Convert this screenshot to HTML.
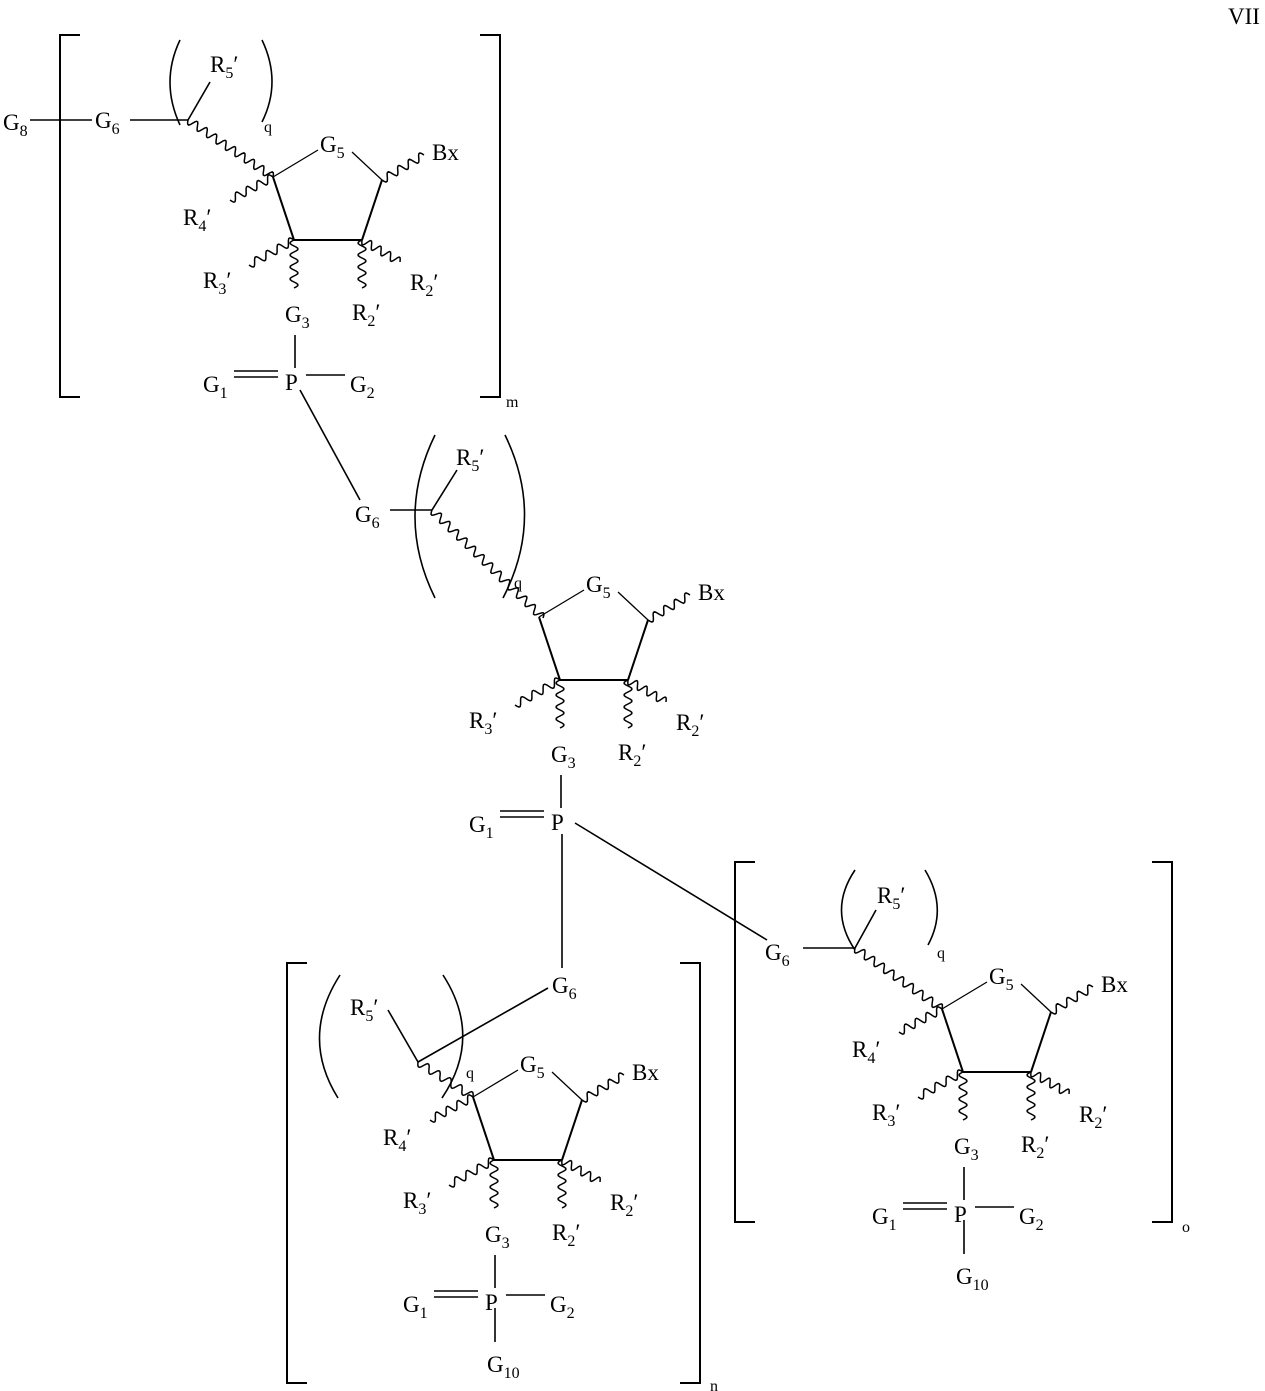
<!DOCTYPE html>
<html><head><meta charset="utf-8"><style>
html,body{margin:0;padding:0;background:#fff;}
svg{display:block}
text{font-family:"Liberation Serif",serif;font-size:23px;fill:#000}
.s{font-size:16px}
</style></head><body>
<svg id="c" width="1265" height="1391" viewBox="0 0 1265 1391" xmlns="http://www.w3.org/2000/svg" fill="none" stroke="#000" stroke-width="1.6">
<text x="1228" y="24" stroke="none">VII</text>
</svg>
<script>
var svg=document.getElementById('c'),NS='http://www.w3.org/2000/svg';
function el(t,a,txt){var e=document.createElementNS(NS,t);for(var k in a)e.setAttribute(k,a[k]);if(txt)e.textContent=txt;svg.appendChild(e);return e;}
function L(x1,y1,x2,y2,w){el('line',{x1:x1,y1:y1,x2:x2,y2:y2,'stroke-width':w||1.6});}
function W(x1,y1,x2,y2){var dx=x2-x1,dy=y2-y1,len=Math.hypot(dx,dy),ux=dx/len,uy=dy/len,nx=-uy,ny=ux;var n=Math.max(2,Math.round(len/12)),d='M'+x1+' '+y1;for(var i=1;i<=n*10;i++){var t=i/(n*10),a=4*Math.sin(t*n*2*Math.PI);d+=' L'+(x1+dx*t+nx*a).toFixed(1)+' '+(y1+dy*t+ny*a).toFixed(1);}el('path',{d:d,'stroke-width':1.5});}
function T(x,y,m,s,p){var t=el('text',{x:x,y:y,stroke:'none'});var a=document.createElementNS(NS,'tspan');a.textContent=m;t.appendChild(a);if(s){var b=document.createElementNS(NS,'tspan');b.setAttribute('class','s');b.setAttribute('dy','6');b.textContent=s;t.appendChild(b);}if(p){var c=document.createElementNS(NS,'tspan');c.setAttribute('dy',s?'-6':'0');c.textContent='\u2032';t.appendChild(c);}}
function P(x1,y1,xc,yc,x2,y2){el('path',{d:'M'+x1+' '+y1+' Q'+xc+' '+yc+' '+x2+' '+y2,'stroke-width':1.6});}
function br(x,y1,y2,d){el('polyline',{points:(x+d)+','+y1+' '+x+','+y1+' '+x+','+y2+' '+(x+d)+','+y2,'stroke-width':2});}
function unit(cx,cy,o){
 var r=function(a,b){return [cx+a,cy+b];};
 var c4=r(-21,-63),c1=r(88,-60),c2=r(68,0),c3=r(0,0);
 L(c4[0],c4[1],cx+24,cy-90,1.3);L(cx+58,cy-88,c1[0],c1[1],1.3);
 L(c1[0],c1[1],c2[0],c2[1],2);L(c2[0],c2[1],c3[0],c3[1],2);L(c3[0],c3[1],c4[0],c4[1],2);
 T(cx+26,cy-88,'G','5');
 W(c1[0],c1[1],cx+130,cy-85);T(cx+138,cy-80,'Bx');
 if(o.r4){W(c4[0],c4[1],cx-64,cy-40);T(cx-111,cy-15,'R','4',1);}
 W(cx,cy,cx-45,cy+25);T(cx-91,cy+48,'R','3',1);
 W(cx,cy,cx,cy+48);T(cx-9,cy+82,'G','3');
 W(cx+68,cy,cx+68,cy+48);T(cx+58,cy+80,'R','2',1);
 W(cx+68,cy,cx+106,cy+22);T(cx+116,cy+50,'R','2',1);
 L(cx+1,cy+95,cx+1,cy+128);
 T(cx-9,cy+150,'P');T(cx-91,cy+152,'G','1');
 L(cx-60,cy+131,cx-16,cy+131);L(cx-60,cy+137,cx-16,cy+137);
 if(o.g2){T(cx+56,cy+152,'G','2');L(cx+12,cy+135,cx+51,cy+135);}
 if(o.g10){L(cx+1,cy+148,cx+1,cy+182);T(cx-7,cy+212,'G','10');}
}
unit(294,240,{r4:1,g2:1});
W(188,120,273,177);L(188,120,210,82);T(210,72,'R','5',1);
P(180,40,160,82,180,125);P(262,40,282,82,262,122);T(264,132,'q','');
svg.lastChild.setAttribute('class','s');
T(95,128,'G','6');L(130,120,188,120);T(3,130,'G','8');L(30,120,92,120);
br(60,35,397,20);br(500,35,397,-20);T(506,407,'m');svg.lastChild.setAttribute('class','s');
L(300,390,360,500);
unit(560,680,{});
W(432,510,543,618);L(432,510,457,470);T(456,465,'R','5',1);
P(435,435,395,517,435,598);P(505,435,545,517,503,598);T(514,588,'q');svg.lastChild.setAttribute('class','s');
T(355,522,'G','6');L(390,510,432,510);
L(562,834,562,968);L(575,823,767,940);
unit(963,1072,{r4:1,g2:1,g10:1});
W(855,948,942,1009);L(855,948,876,910);T(877,903,'R','5',1);
P(855,870,828,910,855,950);P(925,870,948,908,928,945);T(937,958,'q');svg.lastChild.setAttribute('class','s');
T(765,960,'G','6');L(803,948,855,948);
br(735,862,1222,20);br(1172,862,1222,-20);T(1182,1232,'o');svg.lastChild.setAttribute('class','s');
unit(494,1160,{r4:1,g2:1,g10:1});
W(418,1062,473,1097);L(418,1062,388,1010);T(350,1015,'R','5',1);
P(340,975,300,1037,338,1098);P(443,975,483,1037,442,1098);T(466,1078,'q');svg.lastChild.setAttribute('class','s');
T(552,993,'G','6');L(548,988,418,1062);
br(287,963,1383,20);br(700,963,1383,-20);T(710,1391,'n');svg.lastChild.setAttribute('class','s');
</script>
</body></html>
